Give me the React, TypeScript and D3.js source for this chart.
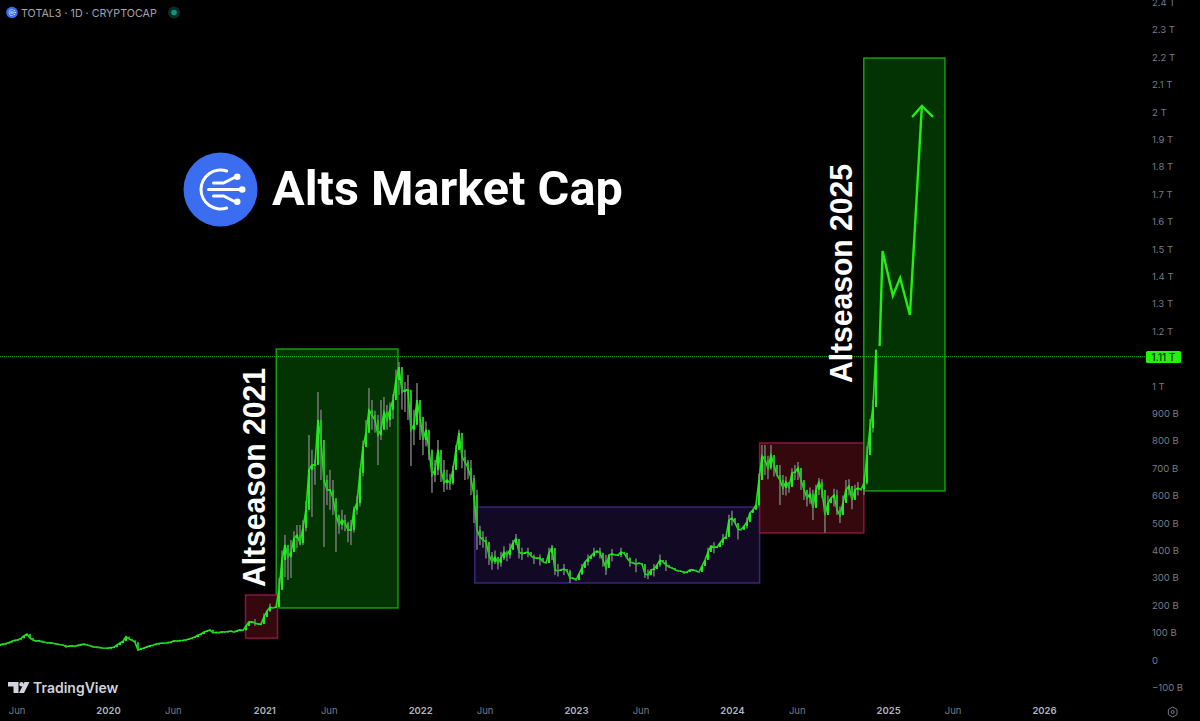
import * as d3 from "d3";
import { useRef, useEffect } from "react";

const width = 1200;
const height = 721;

// weekly closes in billions, first candle is 2019-04-23
const firstCandle = "2019-04-23";
const candleDays = 7.0256;
const closes = [
  55, 58, 60, 64, 68, 72, 74, 79, 88, 95,
  80, 73, 69, 71, 66, 65, 62, 63, 60, 58,
  56, 55, 48, 51, 52, 50, 54, 56, 58, 55,
  52, 48, 47, 46, 44, 43, 44, 45, 47, 55,
  62, 69, 85, 77, 72, 65, 36, 41, 44, 48,
  52, 54, 58, 60, 62, 61, 64, 66, 70, 69,
  71, 72, 74, 77, 80, 84, 91, 95, 102, 106,
  110, 99, 101, 100, 103, 102, 104, 106, 102, 107,
  110, 108, 124, 139, 139, 135, 131, 131, 157, 179,
  193, 190, 193, 256, 365, 420, 376, 394, 445, 456,
  427, 482, 548, 694, 712, 712, 876, 803, 657, 621,
  621, 591, 529, 493, 511, 500, 475, 475, 548, 573,
  683, 777, 829, 913, 894, 876, 821, 840, 905, 876,
  913, 949, 1022, 1069, 978, 986, 986, 840, 858, 949,
  887, 803, 840, 767, 675, 694, 767, 694, 646, 657,
  646, 694, 767, 829, 741, 723, 701, 664, 602, 475,
  449, 438, 431, 383, 358, 376, 354, 372, 394, 383,
  402, 427, 442, 394, 387, 391, 394, 380, 372, 372,
  372, 358, 354, 391, 409, 329, 325, 329, 332, 325,
  299, 299, 292, 314, 336, 358, 369, 380, 391, 398,
  391, 365, 336, 383, 387, 383, 383, 394, 391, 372,
  358, 354, 350, 354, 350, 314, 310, 329, 332, 347,
  365, 358, 347, 339, 336, 329, 325, 325, 318, 321,
  329, 329, 325, 321, 343, 365, 394, 416, 412, 412,
  427, 442, 449, 511, 518, 500, 478, 475, 489, 504,
  537, 548, 566, 657, 745, 730, 701, 748, 712, 675,
  657, 628, 650, 631, 683, 686, 701, 657, 621, 591,
  606, 555, 621, 650, 621, 529, 573, 591, 602, 548,
  529, 573, 621, 635, 584, 621, 628, 621, 646, 748,
  847, 923, 1132,
];

// wicks: candle index, high, low
const wickCandles = [
  95, 96, 97, 99, 100, 103, 104, 106, 107, 108, 109, 110, 111, 112, 114, 117, 122, 123, 124, 126,
  127, 128, 129, 132, 133, 134, 135, 136, 137, 138, 139, 140, 141, 143, 144, 146, 148, 149, 152, 153,
  155, 157, 158, 159, 163, 164, 171, 184, 190, 202, 215, 254, 255, 257, 260, 261, 265, 266, 268, 271,
  273, 275, 279, 282, 288,
  85, 88, 90, 93, 94, 98, 101, 102, 105, 113, 115, 116, 118, 119, 120, 121, 125, 130, 131, 142,
  145, 147, 150, 151, 154, 156, 160, 161, 162, 165, 166, 167, 168, 169, 170, 172, 173, 174, 176, 178,
  180, 183, 185, 186, 188, 194, 196, 198, 200, 201, 204, 207, 210, 212, 216, 218, 220, 222, 236, 238,
  241, 243, 244, 246, 249, 253, 256, 258, 262, 263, 264, 267, 269, 270, 272, 274, 276, 278, 280, 281,
  283, 284, 285, 286, 289, 290, 291,
];
const wickHighs = [
  456, 420, 438, 493, 493, 821, 767, 978, 913, 730, 675, 694, 657, 566, 548, 511, 876, 993, 949, 894,
  949, 960, 931, 1059, 1088, 1022, 1015, 1040, 967, 913, 1011, 949, 876, 803, 767, 803, 730, 694, 785, 840,
  767, 730, 675, 621, 420, 394, 438, 420, 329, 383, 347, 785, 785, 785, 712, 675, 712, 723, 657, 621,
  664, 584, 621, 657, 675,
  150, 170, 205, 300, 400, 470, 510, 580, 730, 530, 530, 505, 560, 600, 700, 800, 910, 940, 970, 870,
  730, 730, 680, 710, 770, 730, 490, 470, 450, 400, 375, 395, 415, 400, 425, 460, 420, 410, 410, 385,
  385, 410, 370, 350, 350, 350, 385, 410, 410, 385, 405, 410, 375, 370, 330, 350, 385, 365, 410, 430,
  460, 530, 545, 495, 520, 680, 745, 745, 670, 650, 700, 690, 620, 630, 640, 660, 600, 625, 560, 600,
  660, 610, 640, 650, 780, 880, 950,
];
const wickLows = [
  303, 292, 299, 409, 420, 584, 522, 767, 657, 412, 566, 548, 529, 394, 475, 420, 785, 840, 840, 712,
  803, 858, 840, 967, 967, 913, 905, 876, 708, 785, 876, 803, 748, 730, 610, 675, 613, 621, 694, 767,
  657, 602, 500, 402, 347, 329, 402, 365, 281, 310, 299, 694, 675, 694, 566, 602, 657, 657, 584, 511,
  602, 464, 529, 602, 602,
  125, 140, 175, 215, 300, 400, 420, 470, 640, 460, 470, 430, 465, 530, 560, 670, 830, 850, 880, 780,
  650, 650, 620, 640, 700, 660, 420, 410, 370, 350, 330, 340, 365, 360, 370, 420, 370, 365, 375, 350,
  345, 370, 310, 305, 310, 310, 345, 375, 370, 340, 360, 375, 340, 320, 295, 305, 340, 325, 370, 390,
  420, 470, 490, 440, 480, 560, 660, 670, 600, 610, 640, 620, 560, 570, 580, 590, 530, 560, 500, 530,
  600, 550, 590, 600, 640, 770, 830,
];

// drawn boxes
const boxStarts = ["2021-01-29", "2020-11-18", "2022-05-09", "2024-03-06", "2024-11-05"];
const boxEnds = ["2021-11-10", "2021-02-01", "2024-03-06", "2024-11-05", "2025-05-14"];
const boxTops = [1135, 237, 558, 792, 2197];
const boxBottoms = [190, 80, 281, 464, 617];
const boxFills = ["#033203", "#34080d", "#120a24", "#34080d", "#033203"];
const boxStrokes = ["#149d0a", "#8a1640", "#3a2378", "#8a1640", "#149d0a"];

// projected path and its arrow head
const pathDates = ["2024-12-12", "2024-12-19", "2025-01-12", "2025-01-29", "2025-02-21", "2025-03-21"];
const pathValues = [1146, 1493, 1329, 1394, 1259, 2022];
const headDates = ["2025-02-26", "2025-03-21", "2025-04-16"];
const headValues = [1982, 2022, 1982];

const lastPrice = 1107;
const yTicks = [
  -100, 0, 100, 200, 300, 400, 500, 600, 700, 800, 900, 1000, 1200, 1300, 1400, 1500, 1600, 1700, 1800,
  1900, 2000, 2100, 2200, 2300, 2400,
];
const xTickDates = [
  "2019-06-01", "2020-01-01", "2020-06-01", "2021-01-01", "2021-06-01", "2022-01-01", "2022-06-01",
  "2023-01-01", "2023-06-01", "2024-01-01", "2024-06-01", "2025-01-01", "2025-06-01", "2026-01-01",
];

const parse = d3.timeParse("%Y-%m-%d") as (s: string) => Date;

function drawLogo(parent: any, cx: number, cy: number, r: number) {
  const g = parent.append("g").attr("transform", `translate(${cx},${cy}) scale(${r / 37})`);
  g.append("circle").attr("r", 37).attr("fill", "#3a6df0");
  const c = d3.arc().innerRadius(18).outerRadius(21).cornerRadius(1.5);
  g.append("path")
    .attr("d", c({ startAngle: 0.4, endAngle: -Math.PI - 0.4 } as any))
    .attr("fill", "#fff");
  ["M-7 -6.5H3L15 -12.5", "M-12 0H20", "M-7 6.5H3L15 12.5"].forEach((d) => {
    g.append("path")
      .attr("d", d)
      .attr("fill", "none")
      .attr("stroke", "#fff")
      .attr("stroke-width", 3)
      .attr("stroke-linecap", "round");
  });
  [[16.7, -12.7], [21.7, 0], [16.7, 12.3]].forEach(([x, y]) => {
    g.append("circle").attr("cx", x).attr("cy", y).attr("r", 3.3).attr("fill", "#fff");
  });
}

export default function App(): JSX.Element {
  const svgRef = useRef<SVGSVGElement>(null);

  useEffect(() => {
    if (!svgRef.current) return;
    const svg = d3.select(svgRef.current);
    svg.selectAll("*").remove();

    const x = d3
      .scaleTime()
      .domain([parse("2020-01-01"), parse("2026-01-01")])
      .range([108, 1044]);
    const y = d3.scaleLinear().domain([0, 2400]).range([660, 2.4]);

    const start = parse(firstCandle).getTime();
    const candleX = (i: number) => x(new Date(start + i * candleDays * 864e5));

    // boxes go under the candles
    boxStarts.forEach((d, i) => {
      svg
        .append("rect")
        .attr("x", x(parse(d)))
        .attr("y", y(boxTops[i]))
        .attr("width", x(parse(boxEnds[i])) - x(parse(d)))
        .attr("height", y(boxBottoms[i]) - y(boxTops[i]))
        .attr("fill", boxFills[i])
        .attr("stroke", boxStrokes[i])
        .attr("stroke-width", 1.5);
    });

    svg
      .append("line")
      .attr("x1", 0)
      .attr("x2", 1147)
      .attr("y1", y(lastPrice))
      .attr("y2", y(lastPrice))
      .attr("stroke", "#1fae1f")
      .attr("stroke-width", 1)
      .attr("stroke-dasharray", "1 1");

    // wicks
    svg
      .append("g")
      .selectAll("line")
      .data(wickCandles)
      .join("line")
      .attr("x1", (d) => candleX(d))
      .attr("x2", (d) => candleX(d))
      .attr("y1", (_, i) => y(wickHighs[i]))
      .attr("y2", (_, i) => y(wickLows[i]))
      .attr("stroke", "#6f756f")
      .attr("stroke-width", 1.6);

    const closeLine = d3
      .line<number>()
      .x((_, i) => candleX(i))
      .y((d) => y(d));
    svg
      .append("path")
      .attr("d", closeLine(closes))
      .attr("fill", "none")
      .attr("stroke", "#22e01e")
      .attr("stroke-width", 1.6);

    // bodies, open is the previous close
    svg
      .append("g")
      .selectAll("rect")
      .data(closes)
      .join("rect")
      .attr("x", (_, i) => candleX(i) - 1)
      .attr("width", 2)
      .attr("y", (d, i) => y(Math.max(d, closes[i - 1] ?? d)))
      .attr("height", (d, i) => Math.max(1, Math.abs(y(d) - y(closes[i - 1] ?? d))))
      .attr("fill", (d, i) => (d >= (closes[i - 1] ?? d) ? "#22ee1e" : "#2fb82f"));

    const projection = d3
      .line<number>()
      .x((_, i) => x(parse(pathDates[i])))
      .y((d) => y(d));
    svg
      .append("path")
      .attr("d", projection(pathValues))
      .attr("fill", "none")
      .attr("stroke", "#22ee11")
      .attr("stroke-width", 2.4);
    const head = d3
      .line<number>()
      .x((_, i) => x(parse(headDates[i])))
      .y((d) => y(d));
    svg
      .append("path")
      .attr("d", head(headValues))
      .attr("fill", "none")
      .attr("stroke", "#22ee11")
      .attr("stroke-width", 2.4);

    // right price axis
    const yAxis = d3
      .axisRight(y)
      .tickValues(yTicks)
      .tickSize(0)
      .tickPadding(0)
      .tickFormat((v: any) => {
        if (v >= 1000) return `${v / 1000} T`;
        if (v < 0) return `\u2212${-v} B`;
        return v === 0 ? "0" : `${v} B`;
      });
    const yG = svg.append("g").attr("transform", "translate(1152,0)").call(yAxis as any);
    yG.select(".domain").remove();
    yG.selectAll("text").attr("fill", "#787b86").style("font", "9.5px Inter, sans-serif");

    // time axis
    const xAxis = d3
      .axisBottom(x)
      .tickValues(xTickDates.map(parse))
      .tickSize(0)
      .tickPadding(0)
      .tickFormat((d: any) => (d.getMonth() === 0 ? d3.timeFormat("%Y")(d) : d3.timeFormat("%b")(d)));
    const xG = svg.append("g").attr("transform", "translate(0,707)").call(xAxis as any);
    xG.select(".domain").remove();
    xG.selectAll("text")
      .attr("fill", (d: any) => (d.getMonth() === 0 ? "#b2b5be" : "#787b86"))
      .style("font", (d: any) => `${d.getMonth() === 0 ? 600 : 400} 9.5px Inter, sans-serif`);

    // last price tag
    svg
      .append("rect")
      .attr("x", 1146)
      .attr("y", 351)
      .attr("width", 35)
      .attr("height", 12)
      .attr("rx", 1.5)
      .attr("fill", "#22f50a");
    svg
      .append("text")
      .attr("x", 1163.5)
      .attr("y", 360.6)
      .attr("text-anchor", "middle")
      .attr("fill", "#0b2a08")
      .style("font", "500 10px Inter, sans-serif")
      .text("1.11 T");

    // header
    drawLogo(svg, 12, 12.5, 5.8);
    svg
      .append("text")
      .attr("x", 21)
      .attr("y", 16.5)
      .attr("fill", "#a3a6af")
      .style("font", "10.7px Inter, sans-serif")
      .text("TOTAL3 · 1D · CRYPTOCAP");
    svg.append("circle").attr("cx", 174).attr("cy", 12.5).attr("r", 6).attr("fill", "#0c2a26");
    svg.append("circle").attr("cx", 174).attr("cy", 12.5).attr("r", 2.8).attr("fill", "#089981");

    // title
    drawLogo(svg, 220.5, 189.5, 37);
    svg
      .append("text")
      .attr("x", 272)
      .attr("y", 205)
      .attr("fill", "#fff")
      .style("font", "700 48.6px Roboto, sans-serif")
      .text("Alts Market Cap");

    [
      ["Altseason 2021", 265, 587],
      ["Altseason 2025", 852, 383],
    ].forEach(([t, tx, ty]) => {
      svg
        .append("text")
        .attr("transform", `translate(${tx},${ty}) rotate(-90)`)
        .attr("fill", "#fff")
        .attr("textLength", 219)
        .attr("lengthAdjust", "spacingAndGlyphs")
        .style("font", "700 32px 'Liberation Sans', sans-serif")
        .text(t as string);
    });

    // TradingView mark
    const tv = svg.append("g").attr("fill", "#d1d4dc");
    tv.append("path").attr("d", "M8 682H18.5V693H13.5V686.5H8Z");
    tv.append("circle").attr("cx", 21.5).attr("cy", 684.2).attr("r", 2.2);
    tv.append("path").attr("d", "M24.5 682H29.5L24 693H19Z");
    tv.append("text")
      .attr("x", 33)
      .attr("y", 693)
      .style("font", "600 14px Inter, sans-serif")
      .text("TradingView");

    // settings icon
    svg
      .append("path")
      .attr("d", d3.line()(d3.range(6).map((i) => [1172.7 + 5 * Math.sin((i * Math.PI) / 3), 712 + 5 * Math.cos((i * Math.PI) / 3)] as [number, number])) + "Z")
      .attr("fill", "none")
      .attr("stroke", "#787b86");
    svg.append("circle").attr("cx", 1172.7).attr("cy", 712).attr("r", 1.6).attr("fill", "none").attr("stroke", "#787b86");
  }, []);

  return (
    <svg
      ref={svgRef}
      width={width}
      height={height}
      style={{ position: "absolute", left: 0, top: 0, background: "#000", display: "block" }}
    />
  );
}
